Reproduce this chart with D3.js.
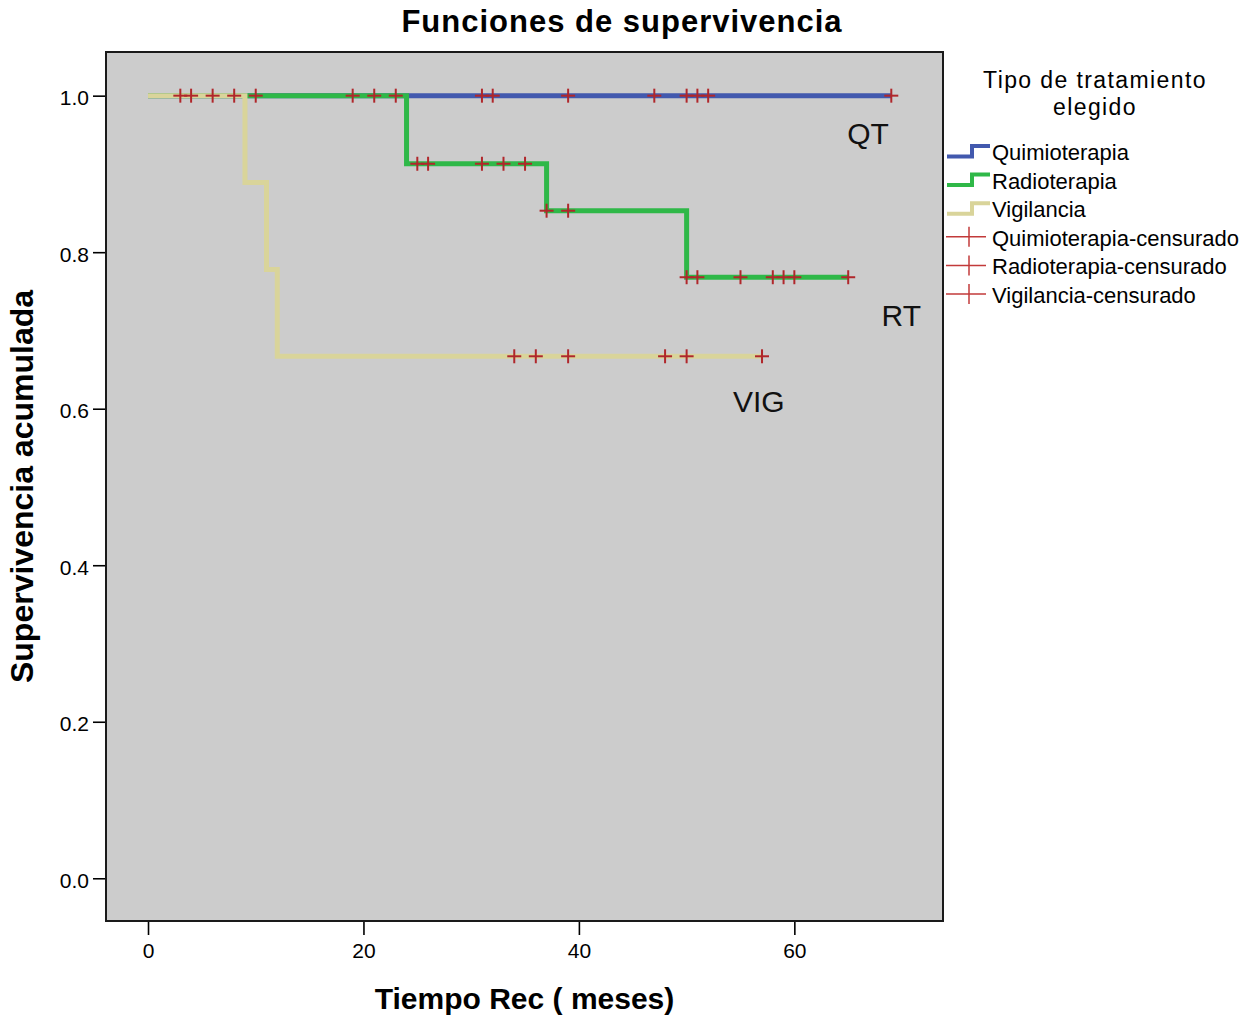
<!DOCTYPE html>
<html>
<head>
<meta charset="utf-8">
<script src="https://cdn.jsdelivr.net/npm/d3@7/dist/d3.min.js"></script>
<style>
  body { margin: 0; background: #ffffff; }
  text { font-family: "Liberation Sans", Arial, sans-serif; fill: #000; }
</style>
</head>
<body>
<div class="Chart"></div>
<script>
// Kaplan-Meier, tiempo hasta recidiva por tipo de tratamiento

// step curves (time in months, cumulative survival)
var quimioTimes = [0, 69]
var quimioSurv  = [1, 1]
var radioTimes  = [0, 24, 37, 50, 65]
var radioSurv   = [1, 0.913, 0.853, 0.768, 0.768]
var vigTimes    = [0, 9, 11, 12, 57]
var vigSurv     = [1, 0.889, 0.778, 0.667, 0.667]

// censored cases
var quimioCens = [31, 32, 39, 47, 50, 51, 52, 69]
var radioCens  = [10, 19, 21, 23, 25, 26, 31, 33, 35, 37, 39, 50, 51, 55, 58, 59, 60, 65]
var vigCens    = [3, 4, 6, 8, 34, 36, 39, 48, 50, 57]

var groupNames  = ["Quimioterapia", "Radioterapia", "Vigilancia"]
var groupColors = ["#4259ae", "#2fb848", "#d9d49a"]
var censColor = "#b0272b"

var curveLabels = ["QT", "RT", "VIG"]
var curveLabelTime = [64.9, 68.1, 54.3]
var curveLabelSurv = [0.938, 0.706, 0.596]

var xTicks = [0, 20, 40, 60]
var yTicks = [0, 0.2, 0.4, 0.6, 0.8, 1.0]
var xDomain = [-3.9, 73.8]
var yDomain = [-0.0546, 1.0558]

var title = "Funciones de supervivencia"
var x_label = "Tiempo Rec ( meses)"
var y_label = "Supervivencia acumulada"
var legendTitle = ["Tipo de tratamiento", "elegido"]

var W = 1257, H = 1024
var margin = {top: 52, left: 106, right: 314, bottom: 103}
var plot_width = W - margin.left - margin.right
var plot_height = H - margin.top - margin.bottom

var svg = d3.select(".Chart").append("svg")
    .attr("width", W)
    .attr("height", H)

var g = svg.append("g")
    .attr("transform", "translate(" + margin.left + "," + margin.top + ")")

var xScale = d3.scaleLinear().domain(xDomain).range([0, plot_width])
var yScale = d3.scaleLinear().domain(yDomain).range([plot_height, 0])

g.append("rect")
    .attr("width", plot_width)
    .attr("height", plot_height)
    .attr("fill", "#cccccc")

// axes
var xAxis = g.append("g")
    .attr("transform", "translate(0," + plot_height + ")")
    .call(d3.axisBottom(xScale).tickValues(xTicks).tickSize(14).tickPadding(8).tickFormat(d3.format("d")))
var yAxis = g.append("g")
    .call(d3.axisLeft(yScale).tickValues(yTicks).tickSize(13).tickPadding(4).tickFormat(d3.format(".1f")))

;[xAxis, yAxis].forEach(function(a) {
  a.select(".domain").remove()
  a.selectAll("line").attr("stroke", "#000").attr("stroke-width", 1.6)
  a.selectAll("text").attr("fill", "#000").style("font-size", "21px")
    .style("font-family", "'Liberation Sans', Arial, sans-serif")
})
yAxis.selectAll("text").attr("dy", "0.42em")

// curves
var curves = [
  {times: quimioTimes, surv: quimioSurv, cens: quimioCens},
  {times: radioTimes, surv: radioSurv, cens: radioCens},
  {times: vigTimes, surv: vigSurv, cens: vigCens}
]

function survAt(c, t) {
  var s = c.surv[0]
  c.times.forEach(function(ti, i) { if (ti <= t) s = c.surv[i] })
  return s
}

var line = d3.line()
    .x(function(d) { return xScale(d[0]) })
    .y(function(d) { return yScale(d[1]) })
    .curve(d3.curveStepAfter)

curves.forEach(function(c, i) {
  g.append("path")
    .datum(d3.zip(c.times, c.surv))
    .attr("d", line)
    .attr("fill", "none")
    .attr("stroke", groupColors[i])
    .attr("stroke-width", 5)
})

// censored marks on top
var cross = 7
curves.forEach(function(c) {
  var m = g.append("g").selectAll("g")
    .data(c.cens)
    .enter().append("g")
      .attr("transform", function(d) { return "translate(" + xScale(d) + "," + yScale(survAt(c, d)) + ")" })
  m.append("line").attr("x1", -cross).attr("x2", cross).attr("y1", 0).attr("y2", 0)
  m.append("line").attr("x1", 0).attr("x2", 0).attr("y1", -cross).attr("y2", cross)
  m.selectAll("line").attr("stroke", censColor).attr("stroke-width", 2)
})

// curve annotations
g.selectAll(".clabel")
  .data(curveLabels)
  .enter().append("text")
    .attr("class", "clabel")
    .attr("x", function(d, i) { return xScale(curveLabelTime[i]) })
    .attr("y", function(d, i) { return yScale(curveLabelSurv[i]) })
    .style("font-size", "30px")
    .style("fill", "#111")
    .text(function(d) { return d })

// frame
g.append("rect")
    .attr("width", plot_width)
    .attr("height", plot_height)
    .attr("fill", "none")
    .attr("stroke", "#1a1a1a")
    .attr("stroke-width", 2)

// titles
svg.append("text")
    .attr("x", 622).attr("y", 32)
    .attr("text-anchor", "middle")
    .style("font-size", "31px").style("font-weight", "bold").style("letter-spacing", "1px")
    .text(title)

svg.append("text")
    .attr("x", margin.left + plot_width / 2).attr("y", 1009)
    .attr("text-anchor", "middle")
    .style("font-size", "30px").style("font-weight", "bold")
    .text(x_label)

svg.append("text")
    .attr("transform", "translate(33," + (margin.top + plot_height / 2) + ")rotate(-90)")
    .attr("text-anchor", "middle")
    .style("font-size", "32px").style("font-weight", "bold")
    .text(y_label)

// legend
var lx = 947, ly = 160, lstep = 28.6
var legend = svg.append("g")

legend.selectAll(".ltitle")
  .data(legendTitle)
  .enter().append("text")
    .attr("class", "ltitle")
    .attr("x", 1095)
    .attr("y", function(d, i) { return 88 + i * 27 })
    .attr("text-anchor", "middle")
    .style("font-size", "23px").style("letter-spacing", "1.4px")
    .text(function(d) { return d })

var legendItems = groupNames.map(function(n, i) { return {name: n, color: groupColors[i], cens: false} })
  .concat(groupNames.map(function(n) { return {name: n + "-censurado", color: "#c23a3a", cens: true} }))

var item = legend.selectAll(".litem")
  .data(legendItems)
  .enter().append("g")
    .attr("class", "litem")
    .attr("transform", function(d, i) { return "translate(" + lx + "," + (ly + i * lstep) + ")" })

item.filter(function(d) { return !d.cens }).append("path")
    .attr("d", "M0,-3.5H25V-14H43")
    .attr("fill", "none")
    .attr("stroke", function(d) { return d.color })
    .attr("stroke-width", 4)

item.filter(function(d) { return d.cens }).each(function(d) {
  var s = d3.select(this)
  s.append("line").attr("x1", -1).attr("x2", 39).attr("y1", -9).attr("y2", -9)
  s.append("line").attr("x1", 22).attr("x2", 22).attr("y1", -19).attr("y2", 1)
  s.selectAll("line").attr("stroke", d.color).attr("stroke-width", 1.5)
})

item.append("text")
    .attr("x", 45)
    .attr("y", 0)
    .style("font-size", "22px")
    .text(function(d) { return d.name })
</script>
</body>
</html>
